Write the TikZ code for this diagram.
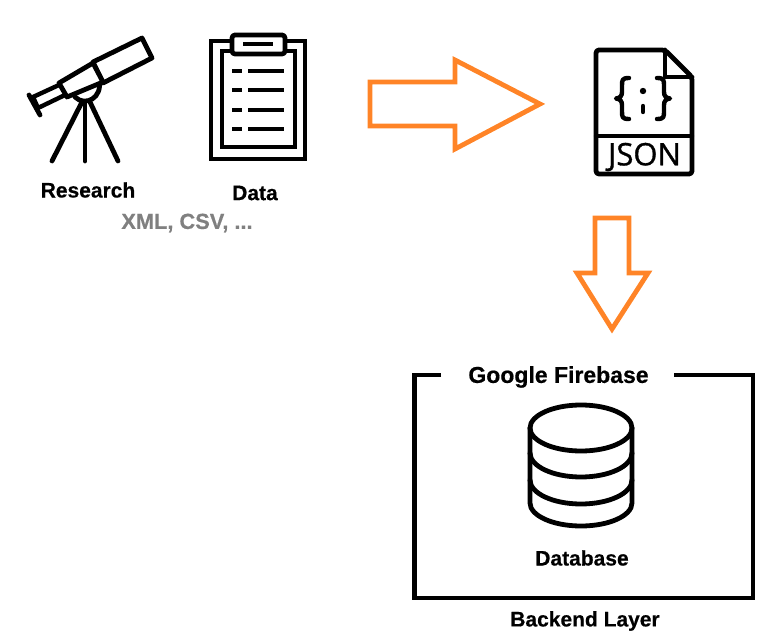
\documentclass[tikz,border=0pt]{standalone}
\usepackage{fontspec}
\setmainfont[BoldFeatures={FakeBold=0.5}]{Liberation Sans}
\newfontfamily\jsonfont[FakeBold=1]{Open Sans}
\definecolor{arroworange}{HTML}{FF8427}
\definecolor{labelgrey}{HTML}{808080}
\tikzset{
  lbl/.style={font=\fontsize{21}{24}\selectfont\bfseries, text=black, inner sep=0pt},
  biglbl/.style={lbl, font=\fontsize{23}{26}\selectfont\bfseries},
  greylbl/.style={lbl, font=\fontsize{21.8}{24}\selectfont\bfseries, text=labelgrey},
  blockarrow/.style={draw=arroworange, line width=4.8pt, miter limit=10},
  icon/.style={draw=black, line width=4.8pt, line join=round, line cap=round},
  thinicon/.style={icon, line width=4.4pt},
  frameline/.style={draw=black, line width=4.8pt, line join=miter}
}
\begin{document}
\begin{tikzpicture}[x=1pt,y=-1pt]
\useasboundingbox (0,0) rectangle (768,644);
% telescope
\draw[icon] (75,97) .. controls (85,107) and (103,98) .. (99,80);
\draw[icon] (82,102) -- (52,161);
\draw[icon] (85,102) -- (85,161);
\draw[icon] (90,102) -- (118,161);
\draw[icon, fill=white] (93,62) -- (142,38) -- (152,58) -- (103,83) -- cycle;
\draw[icon, fill=white] (59,83) -- (93,63) -- (103,82) -- (67,97) -- cycle;
\draw[thinicon] (59,85) -- (33,97) -- (38,108) -- (65,95);
\draw[icon] (29,95) -- (40,115);
% clipboard
\draw[draw=black, line width=4.6pt] (211,41) rectangle (305,159);
\draw[draw=black, line width=3.8pt] (222,51) rectangle (295,147);
\draw[icon, fill=white, rounded corners=3pt] (232,35) rectangle (285,54);
\draw[draw=black, line width=3.4pt] (243,44) -- (273,44);
\foreach \ry in {71,90,110,129}{
  \draw[draw=black, line width=3.6pt] (232,\ry) -- (242,\ry);
  \draw[draw=black, line width=3.6pt] (248,\ry) -- (284,\ry);
}
% block arrows
\draw[blockarrow] (370,82) -- (455,82) -- (455,60) -- (540,104) -- (455,149) -- (455,126) -- (370,126) -- cycle;
\draw[blockarrow] (595,218) -- (629,218) -- (629,273) -- (648,273) -- (612,329) -- (577,273) -- (595,273) -- cycle;
% json file
\draw[icon, rounded corners=3pt] (596,50) -- (665,50) -- (692,77) -- (692,174) -- (596,174) -- cycle;
\draw[icon] (665,50) -- (665,77) -- (692,77);
\draw[thinicon] (596,136) -- (692,136);
\draw[thinicon] (629,78) .. controls (622,78) and (622,80) .. (622,86) -- (622,92) .. controls (622,96) and (620,98) .. (616,98.5) .. controls (620,99) and (622,101) .. (622,105) -- (622,111) .. controls (622,117) and (622,119) .. (629,119);
\draw[thinicon] (657,78) .. controls (664,78) and (664,80) .. (664,86) -- (664,92) .. controls (664,96) and (666,98) .. (670,98.5) .. controls (666,99) and (664,101) .. (664,105) -- (664,111) .. controls (664,117) and (664,119) .. (657,119);
\fill[black] (643,91) circle (3.2pt);
\draw[thinicon] (643,106) -- (643,112);
\node[font=\jsonfont\fontsize{31}{33}\selectfont, inner sep=0pt, text=black] (jsonlabel) at (644.5,157) {JSON};
% frame
\draw[frameline] (441,375) -- (414.7,375) -- (414.7,598) -- (753,598) -- (753,375) -- (674,375);
% database
\draw[icon] (581,428) ellipse [x radius=51, y radius=23];
\draw[icon] (530,428) -- (530,503) arc[start angle=180, end angle=0, x radius=51, y radius=23] -- (632,428);
\draw[icon] (530,453) arc[start angle=180, end angle=0, x radius=51, y radius=24];
\draw[icon] (530,480) arc[start angle=180, end angle=0, x radius=51, y radius=24];
% labels
\node[lbl] (research) at (88,190) {Research};
\node[lbl] (data) at (255,193) {Data};
\node[greylbl] (formats) at (187,223) {XML, CSV, ...};
\node[biglbl] (firebase) at (558.5,377) {Google Firebase};
\node[lbl] (database) at (582,558) {Database};
\node[lbl] (backend) at (585,621) {Backend Layer};
\end{tikzpicture}
\end{document}
